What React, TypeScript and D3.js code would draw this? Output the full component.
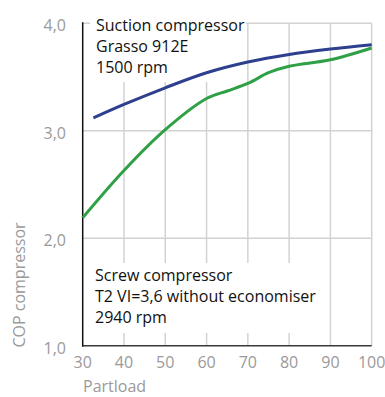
import React from "react";
import * as d3 from "d3";

const xTicks = [30, 40, 50, 60, 70, 80, 90, 100];
const yTicks = [1, 2, 3, 4];
const yTickLabels = ["1,0", "2,0", "3,0", "4,0"];

const suctionX = [32.6, 40, 50, 60, 70, 80, 90, 100];
const suctionY = [3.12, 3.245, 3.4, 3.54, 3.64, 3.71, 3.76, 3.8];

const screwX = [30, 40, 50, 60, 65, 70, 75, 80, 90, 100];
const screwY = [2.19, 2.63, 3.01, 3.3, 3.37, 3.44, 3.54, 3.6, 3.66, 3.77];

const suctionLabel = ["Suction compressor", "Grasso 912E", "1500 rpm"];
const screwLabel = ["Screw compressor", "T2 VI=3,6 without economiser", "2940 rpm"];

const FONT = "'Open Sans', 'Noto Sans', sans-serif";

export default function App() {
  const W = 385;
  const H = 397;
  const x = d3.scaleLinear().domain([30, 100]).range([82.7, 371.7]);
  const y = d3.scaleLinear().domain([1, 4]).range([345.7, 23.3]);

  const line = d3
    .line<[number, number]>()
    .x((d) => x(d[0]))
    .y((d) => y(d[1]))
    .curve(d3.curveCatmullRom.alpha(0.5));

  const suction: [number, number][] = suctionX.map((v, i) => [v, suctionY[i]]);
  const screw: [number, number][] = screwX.map((v, i) => [v, screwY[i]]);

  const grid = "#d2d2d2";
  const tickColor = "#9a9a9a";

  return (
    <svg
      width={W}
      height={H}
      style={{ position: "absolute", left: 0, top: 0, background: "#fff" }}
      fontFamily={FONT}
    >
      {xTicks.slice(1).map((t) => (
        <line key={"gx" + t} x1={x(t)} x2={x(t)} y1={y(4)} y2={y(1)} stroke={grid} strokeWidth={1.5} />
      ))}
      {yTicks.slice(1).map((t) => (
        <line key={"gy" + t} x1={x(30)} x2={x(100)} y1={y(t)} y2={y(t)} stroke={grid} strokeWidth={1.5} />
      ))}
      <rect x={90} y={14} width={156} height={68} fill="#fff" />
      <rect x={90} y={263} width={238} height={70} fill="#fff" />
      <line x1={x(30)} x2={x(100)} y1={y(1)} y2={y(1)} stroke="#3a3a3a" strokeWidth={1.5} />
      <line x1={x(30)} x2={x(30)} y1={y(4) - 1} y2={y(1) + 1} stroke="#111" strokeWidth={1.5} />
      <path d={line(suction) ?? ""} fill="none" stroke="#2e3f8e" strokeWidth={3} />
      <path d={line(screw) ?? ""} fill="none" stroke="#2fa045" strokeWidth={3} />
      {xTicks.map((t) => (
        <text key={"xl" + t} x={x(t)} y={368} textAnchor="middle" fontSize={16} fill={tickColor}>
          {t}
        </text>
      ))}
      {yTicks.map((t, i) => (
        <text
          key={"yl" + t}
          x={66}
          y={y(t) + 2}
          textAnchor="end"
          dominantBaseline="central"
          fontSize={16}
          fill={tickColor}
        >
          {yTickLabels[i]}
        </text>
      ))}
      <text x={83} y={392} fontSize={16} fill={tickColor}>
        Partload
      </text>
      <text
        transform={`translate(25,285) rotate(-90)`}
        textAnchor="middle"
        fontSize={16}
        fill={tickColor}
      >
        COP compressor
      </text>
      {suctionLabel.map((s, i) => (
        <text key={"s" + i} x={96} y={30.7 + i * 21} fontSize={16} fill="#111">
          {s}
        </text>
      ))}
      {screwLabel.map((s, i) => (
        <text key={"c" + i} x={95} y={280.7 + i * 21} fontSize={16} fill="#111">
          {s}
        </text>
      ))}
    </svg>
  );
}
